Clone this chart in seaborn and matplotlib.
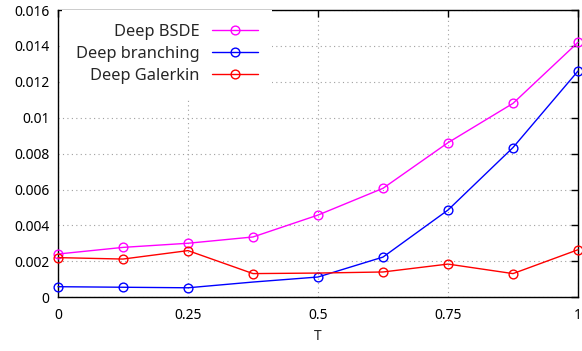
import matplotlib
matplotlib.use("Agg")
import matplotlib.pyplot as plt
import seaborn as sns
import pandas as pd
from matplotlib.ticker import FuncFormatter

T = [0, 0.125, 0.25, 0.375, 0.5, 0.625, 0.75, 0.875, 1]
bsde = [0.00241, 0.00278, 0.00301, 0.00336, 0.00458, 0.00607, 0.00861, 0.0108, 0.0142]
branching = [0.00059, 0.00056, 0.00053, 0.00085, 0.00113, 0.00224, 0.00486, 0.00834, 0.0126]
galerkin = [0.00221, 0.00213, 0.0026, 0.00132, 0.00135, 0.00141, 0.00185, 0.00132, 0.00265]

series_names = ["Deep BSDE", "Deep branching", "Deep Galerkin"]
series_vals = [bsde, branching, galerkin]
colors = ["#ff00ff", "#0000ff", "#ff0000"]
# indices of points that carry a marker
marked = [[0, 1, 2, 3, 4, 5, 6, 7, 8],
          [0, 1, 2, 4, 5, 6, 7, 8],
          [0, 1, 2, 3, 5, 6, 7, 8]]

xticks = [0, 0.25, 0.5, 0.75, 1]
yticks = [0, 0.002, 0.004, 0.006, 0.008, 0.01, 0.012, 0.014, 0.016]

sns.set_style("white")
plt.rcParams['font.family'] = ['Noto Sans', 'DejaVu Sans']

fig = plt.figure(figsize=(5.82, 3.51), dpi=100)
ax = fig.add_axes([58 / 582, 1 - 297.3 / 351, 520 / 582, 287.3 / 351])

for name, vals, col, mk in zip(series_names, series_vals, colors, marked):
    df = pd.DataFrame({"T": T, "err": vals})
    sns.lineplot(data=df, x="T", y="err", ax=ax, color=col, lw=1.0,
                 marker="o", markersize=6.3, markerfacecolor="none",
                 markeredgecolor=col, markeredgewidth=1.0, markevery=mk,
                 label=name, clip_on=False, zorder=3)

ax.set_xlim(0, 1)
ax.set_ylim(0, 0.016)
ax.set_xticks(xticks)
ax.set_yticks(yticks)
ax.xaxis.set_major_formatter(FuncFormatter(lambda v, p: f"{v:g}"))
ax.yaxis.set_major_formatter(FuncFormatter(lambda v, p: f"{v:g}"))
ax.tick_params(direction="in", length=5, width=1, color="black",
               top=True, right=True, labelsize=10, colors="black")
ax.tick_params(axis="x", pad=8)
ax.tick_params(axis="y", pad=6)
ax.grid(True, linestyle=(0, (1, 3)), color="#a0a0a0", lw=0.8)
for s in ax.spines.values():
    s.set_color("black")
    s.set_linewidth(1.0)
ax.set_xlabel("T", fontsize=10, labelpad=4)
ax.set_ylabel("")

leg = ax.legend(loc="upper right", bbox_to_anchor=(272 / 582, 1 - 10 / 351),
                bbox_transform=fig.transFigure, frameon=True, fontsize=11.8,
                facecolor="white", edgecolor="none", framealpha=1.0, fancybox=False,
                markerfirst=False, handlelength=2.8, handletextpad=0.73,
                labelspacing=0.37, borderpad=0.865, borderaxespad=0)
leg.set_zorder(2.5)
leg._legend_box.align = "right"
for vp in leg._legend_handle_box.get_children():
    for hp in vp.get_children():
        hp.align = "right"

fig.savefig("out.png", dpi=100)
